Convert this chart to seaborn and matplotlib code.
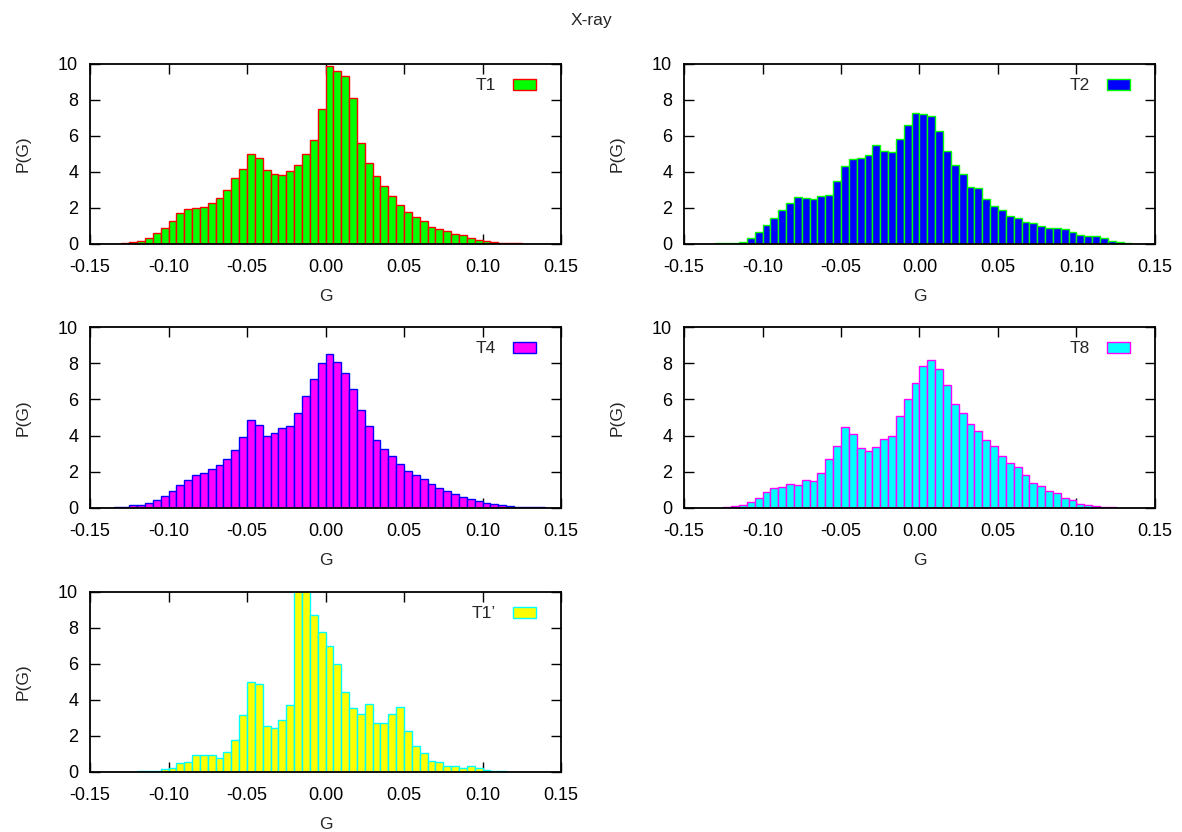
import numpy as np
import pandas as pd
import matplotlib
matplotlib.use("Agg")
import matplotlib.pyplot as plt
import seaborn as sns

# Histogram bin edges for G (width 0.005 from -0.15 to 0.15)
bin_edges = np.linspace(-0.15, 0.15, 61)
bin_centers = 0.5 * (bin_edges[:-1] + bin_edges[1:])

x_ticks = [-0.15, -0.10, -0.05, 0.00, 0.05, 0.10, 0.15]
y_ticks = [0, 2, 4, 6, 8, 10]

# Normalised distributions P(G), one value per bin
p_T1 = [0.0, 0.0, 0.01, 0.02, 0.04, 0.09, 0.15, 0.33, 0.60, 0.87,
        1.30, 1.70, 1.93, 1.98, 2.07, 2.26, 2.57, 3.02, 3.65, 4.19,
        4.98, 4.78, 4.11, 3.91, 3.83, 4.04, 4.37, 5.00, 5.76, 7.48,
        9.90, 9.59, 9.35, 8.13, 5.59, 4.48, 3.76, 3.20, 2.67, 2.15,
        1.80, 1.52, 1.26, 0.96, 0.83, 0.70, 0.56, 0.48, 0.33, 0.20,
        0.15, 0.09, 0.07, 0.04, 0.04, 0.02, 0.01, 0.0, 0.0, 0.0]

p_T2 = [0.0, 0.0, 0.01, 0.02, 0.03, 0.04, 0.07, 0.10, 0.35, 0.65,
        1.06, 1.43, 1.87, 2.30, 2.59, 2.54, 2.52, 2.65, 2.74, 3.48,
        4.33, 4.72, 4.76, 4.94, 5.50, 5.15, 5.11, 5.81, 6.63, 7.30,
        7.22, 7.11, 6.26, 5.15, 4.39, 3.89, 3.17, 3.09, 2.48, 2.13,
        1.87, 1.56, 1.43, 1.20, 1.15, 1.00, 0.87, 0.87, 0.81, 0.65,
        0.52, 0.43, 0.43, 0.33, 0.15, 0.09, 0.05, 0.02, 0.01, 0.0]

p_T4 = [0.01, 0.01, 0.02, 0.04, 0.08, 0.15, 0.17, 0.28, 0.44, 0.66,
        0.94, 1.29, 1.55, 1.82, 1.94, 2.16, 2.38, 2.71, 3.21, 3.91,
        4.85, 4.57, 3.98, 4.17, 4.42, 4.55, 5.25, 6.19, 7.10, 8.02,
        8.52, 8.07, 7.48, 6.60, 5.40, 4.53, 3.76, 3.28, 2.89, 2.45,
        2.05, 1.81, 1.62, 1.33, 1.11, 0.94, 0.79, 0.61, 0.50, 0.39,
        0.29, 0.20, 0.17, 0.11, 0.07, 0.05, 0.04, 0.03, 0.02, 0.01]

p_T8 = [0.0, 0.0, 0.0, 0.01, 0.02, 0.05, 0.13, 0.18, 0.31, 0.53,
        0.90, 1.11, 1.16, 1.33, 1.27, 1.55, 1.49, 1.94, 2.73, 3.41,
        4.48, 4.09, 3.32, 3.15, 3.39, 3.82, 3.98, 5.10, 6.00, 6.88,
        7.85, 8.17, 7.67, 6.78, 5.75, 5.27, 4.65, 4.26, 3.76, 3.43,
        2.88, 2.49, 2.29, 1.82, 1.40, 1.22, 0.92, 0.83, 0.53, 0.44,
        0.24, 0.15, 0.11, 0.06, 0.04, 0.02, 0.01, 0.0, 0.0, 0.0]

p_T1p = [0.0, 0.0, 0.0, 0.01, 0.02, 0.01, 0.04, 0.04, 0.07, 0.18,
         0.22, 0.48, 0.54, 0.92, 0.96, 0.96, 0.76, 1.13, 1.79, 3.14,
         5.02, 4.87, 2.53, 2.47, 2.88, 3.71, 12.0, 11.5, 8.71, 7.79,
         7.01, 6.01, 4.46, 3.54, 3.21, 3.76, 2.71, 2.71, 3.21, 3.63,
         2.27, 1.42, 1.07, 0.59, 0.54, 0.35, 0.35, 0.22, 0.31, 0.22,
         0.11, 0.07, 0.04, 0.02, 0.01, 0.01, 0.0, 0.0, 0.0, 0.0]

series = [
    ("T1", p_T1, "#00ff00", "#ff0000"),
    ("T2", p_T2, "#0000ff", "#00ff00"),
    ("T4", p_T4, "#ff00ff", "#0000ff"),
    ("T8", p_T8, "#00ffff", "#ff00ff"),
    ("T1\u2019", p_T1p, "#ffff00", "#00ffff"),
]

sns.set_theme(style="ticks")
plt.rcParams["font.family"] = ["Liberation Sans", "DejaVu Sans"]
plt.rcParams["font.size"] = 12

W, H = 1182, 832
fig = plt.figure(figsize=(W / 100, H / 100), dpi=100)

col_left = [90, 684]
row_span = [(64, 244), (327, 508), (592, 772)]
ax_w = 471

for i, (name, vals, face, edge) in enumerate(series):
    r, c = divmod(i, 2)
    top, bot = row_span[r]
    ax_h = bot - top
    ax = fig.add_axes([col_left[c] / W, 1 - bot / H, ax_w / W, ax_h / H])
    df = pd.DataFrame({"G": bin_centers, "P": np.asarray(vals, dtype=float)})
    sns.histplot(data=df, x="G", weights="P", bins=bin_edges.tolist(),
                 stat="count", color=face, edgecolor=edge, linewidth=1.0,
                 alpha=1.0, label=name, ax=ax)
    ax.set_xlim(-0.15, 0.15)
    ax.set_ylim(0, 10)
    ax.set_xticks(x_ticks)
    ax.set_xticklabels([f"{t:.2f}" for t in x_ticks])
    ax.set_yticks(y_ticks)
    ax.tick_params(direction="in", length=7, width=1.0, top=True, right=True,
                   labelsize=13, colors="black")
    ax.tick_params(axis="x", pad=11)
    ax.tick_params(axis="y", pad=8.5)
    for s in ax.spines.values():
        s.set_linewidth(1.3)
        s.set_color("black")
    ax.set_xlabel("G", fontsize=12.5, labelpad=9)
    ax.set_ylabel("P(G)", fontsize=12.5, labelpad=20)
    ax.legend(loc="upper right", frameon=False, markerfirst=False,
              bbox_to_anchor=(1 - 7.5 / ax_w, 1 + 3.0 / ax_h),
              handlelength=1.35, handleheight=0.6, handletextpad=0.95,
              borderaxespad=0.6, fontsize=12.5)

fig.text(0.5, 1 - 20 / H, "X-ray", ha="center", va="center", fontsize=12.5)

fig.savefig("out.png", dpi=100, facecolor="white")
